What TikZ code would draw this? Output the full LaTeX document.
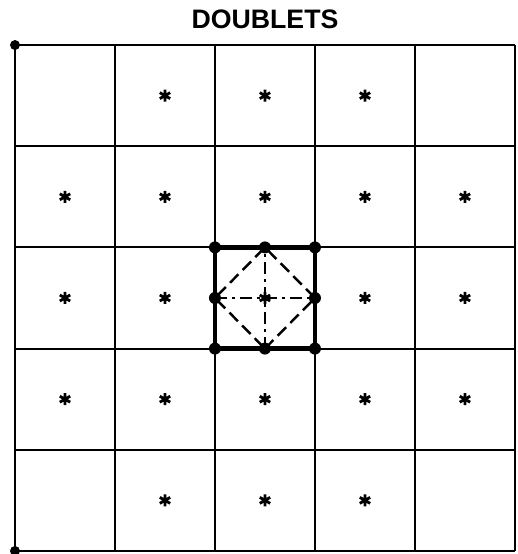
\documentclass[tikz,border=0pt]{standalone}
\usepackage{fontspec}
\setsansfont{Liberation Sans}
\usetikzlibrary{positioning}
\tikzset{
  gridline/.style={line width=0.6pt},
  boxline/.style={line width=1.2pt},
  dot/.style={circle,fill,inner sep=0pt,minimum size=1.2mm},
  cornerdot/.style={circle,fill,inner sep=0pt,minimum size=1mm},
  diagline/.style={line width=0.7pt,dash pattern=on 1.2mm off 0.6mm},
  axisline/.style={line width=0.7pt,dash pattern=on 1.2mm off 0.5mm on 0.3mm off 0.5mm},
  starmark/.style={minimum size=1.4mm,inner sep=0pt,
    path picture={
      \draw[line width=0.8pt] (path picture bounding box.center)
        +(90:0.6mm) -- +(270:0.6mm)
        +(30:0.6mm) -- +(210:0.6mm)
        +(150:0.6mm) -- +(330:0.6mm);
    }},
}

\begin{document}
\begin{tikzpicture}[x=1.0cm,y=1.012cm]
\useasboundingbox (-0.15,-0.030) rectangle (5.03,5.445);

\node[font=\sffamily\bfseries\fontsize{7.6}{8}\selectfont] (title) at (2.5,5.25) {DOUBLETS};

% cells
\foreach \k in {0,...,5} {
  \draw[gridline] (\k,0) -- (\k,5);
  \draw[gridline] (0,\k) -- (5,\k);
}
\node[cornerdot] (tl) at (0,5) {};
\node[cornerdot] (bl) at (0,0) {};

% stars in the cells
\foreach \i in {1,2,3}
  \node[starmark] (s-\i-4) at (\i+0.5,4.5) {};
\foreach \i in {0,...,4}
  \node[starmark] (s-\i-3) at (\i+0.5,3.5) {};
\foreach \i in {0,1,2,3,4}
  \node[starmark] (s-\i-2) at (\i+0.5,2.5) {};
\foreach \i in {0,...,4}
  \node[starmark] (s-\i-1) at (\i+0.5,1.5) {};
\foreach \i in {1,2,3}
  \node[starmark] (s-\i-0) at (\i+0.5,0.5) {};

% doublet cell
\node[dot] (sw) at (2,2) {};
\node[dot] (s)  at (2.5,2) {};
\node[dot] (se) at (3,2) {};
\node[dot] (e)  at (3,2.5) {};
\node[dot] (ne) at (3,3) {};
\node[dot] (n)  at (2.5,3) {};
\node[dot] (nw) at (2,3) {};
\node[dot] (w)  at (2,2.5) {};

\draw[boxline] (sw.center) -- (se.center) -- (ne.center) -- (nw.center) -- cycle;
\draw[diagline] (s.center) -- (e.center) -- (n.center) -- (w.center) -- cycle;
\draw[axisline] (w.center) -- (e.center);
\draw[axisline] (s.center) -- (n.center);
\end{tikzpicture}
\end{document}
